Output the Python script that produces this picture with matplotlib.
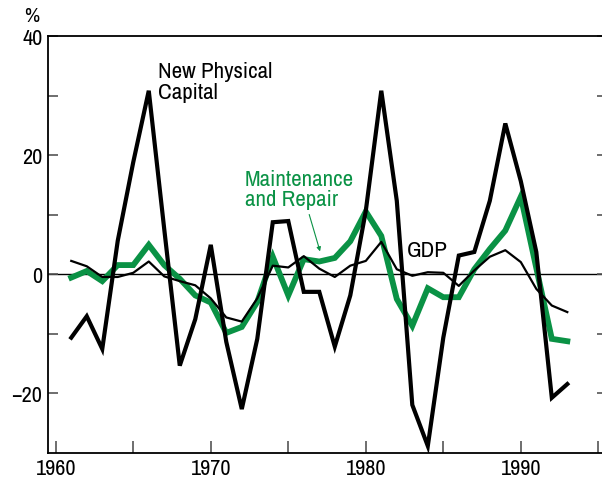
import matplotlib
matplotlib.use("Agg")
import matplotlib.pyplot as plt
from matplotlib import font_manager
import numpy as np

years = np.arange(1961, 1994)

new_capital = [-10.7, -7.1, -12.6, 5.6, 18.8, 30.8, 7.5, -15.4, -7.6, 4.9,
               -11.4, -22.7, -10.9, 8.7, 8.9, -3.0, -3.0, -12.2, -3.6, 10.6,
               30.8, 12.3, -22.0, -28.9, -10.7, 3.1, 3.7, 12.3, 25.3, 15.6,
               3.7, -20.8, -18.5]

maintenance = [-0.6, 0.5, -1.2, 1.5, 1.5, 4.9, 1.5, -0.8, -3.6, -4.8,
               -9.9, -8.9, -4.7, 2.9, -3.6, 2.5, 2.1, 2.7, 5.5, 10.5,
               6.4, -4.2, -8.7, -2.4, -3.9, -3.9, 0.8, 4.2, 7.3, 13.0,
               1.0, -10.9, -11.3]

gdp = [2.2, 1.3, -0.5, -0.5, 0.2, 2.1, -0.4, -1.2, -1.9, -4.1,
       -7.3, -8.0, -4.1, 1.4, 1.1, 3.0, 0.9, -0.5, 1.4, 2.2,
       5.4, 0.8, -0.3, 0.3, 0.2, -2.0, 0.6, 2.9, 4.0, 2.0,
       -2.5, -5.3, -6.4]

green = "#0a9245"
tick_col = "#555555"

# condensed face if one is around, else plain sans
names = {f.name for f in font_manager.fontManager.ttflist}
fam = [n for n in ["Liberation Sans Narrow", "Archivo Narrow", "Asap Condensed", "Liberation Sans"]
       if n in names][:1] + ["DejaVu Sans"]
plt.rcParams["font.family"] = fam

fig = plt.figure(figsize=(6.02, 4.81), dpi=100)
ax = fig.add_axes([48 / 602, 27.5 / 481, 559 / 602, 416.5 / 481])

ax.axhline(0, color="black", lw=1.0, zorder=1)
ax.plot(years, maintenance, color=green, lw=4.2, solid_joinstyle="miter", zorder=2)
ax.plot(years, gdp, color="black", lw=1.6, zorder=3)
ax.plot(years, new_capital, color="black", lw=3.0, solid_joinstyle="miter", zorder=4)

ax.set_xlim(1959.5, 1995.56)
ax.set_ylim(-30, 40)

ax.set_xticks([1960, 1970, 1980, 1990])
ax.set_xticks([1965, 1975, 1985, 1995], minor=True)
ax.set_yticks([-20, 0, 20, 40])
ax.set_yticklabels(["\u221220", "0", "20", "40"])
ax.set_yticks([-10, 10, 30], minor=True)

ax.tick_params(axis="x", which="both", direction="in", length=8.5, width=1.2,
               color=tick_col, labelsize=16, pad=4)
ax.tick_params(axis="y", which="both", direction="in", length=7.5, width=1.2,
               color=tick_col, labelsize=16, right=True, pad=4)

for s in ["left", "bottom", "top"]:
    ax.spines[s].set_linewidth(1.3)
ax.spines["right"].set_visible(False)

fig.text(32 / 602, 1 - 17 / 481, "%", ha="center", va="center", fontsize=15)

ax.text(1966.6, 32.3, "New Physical\nCapital", fontsize=16.5, ha="left", va="center",
        linespacing=1.05)
ax.text(1972.2, 14.3, "Maintenance\nand Repair", fontsize=16.5, ha="left", va="center",
        color=green, linespacing=1.05)
ax.text(1984.0, 4.0, "GDP", fontsize=16.5, ha="center", va="center")
ax.annotate("", xy=(1977.05, 3.8), xytext=(1976.35, 10.0),
            arrowprops=dict(arrowstyle="-|>", color=green, lw=0.8,
                            mutation_scale=6, shrinkA=0, shrinkB=0))

fig.savefig("out.png", dpi=100)
